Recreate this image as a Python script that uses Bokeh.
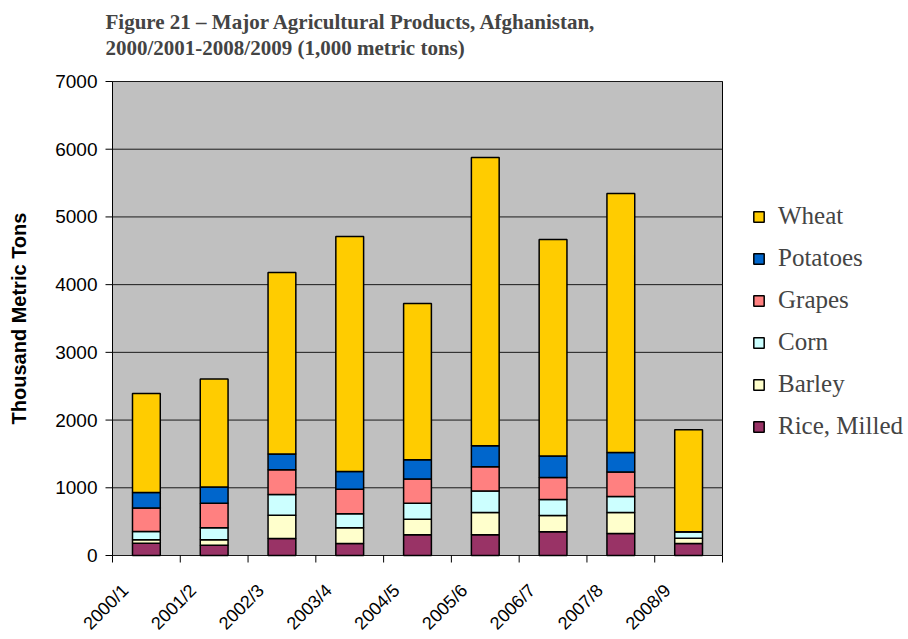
import math
from bokeh.plotting import figure
from bokeh.models import Legend, LegendItem, Title, Range1d
from bokeh.core.properties import value
from bokeh.embed import file_html
from bokeh.resources import INLINE

# ---- data (thousand metric tons) ----
seasons = ["2000/1", "2001/2", "2002/3", "2003/4", "2004/5",
           "2005/6", "2006/7", "2007/8", "2008/9"]
rice = [182, 153, 251, 177, 305, 305, 350, 325, 177]
barley = [50, 79, 345, 232, 232, 330, 241, 310, 79]
corn = [123, 177, 305, 207, 236, 316, 237, 237, 94]
grapes = [345, 364, 365, 364, 355, 359, 325, 360, 0]
potatoes = [231, 237, 232, 261, 286, 311, 315, 290, 0]
wheat = [1462, 1596, 2682, 3471, 2308, 4258, 3200, 3825, 1507]

series_names = ["Rice, Milled", "Barley", "Corn", "Grapes", "Potatoes", "Wheat"]
series_values = [rice, barley, corn, grapes, potatoes, wheat]
series_colors = ["#993366", "#FFFFCC", "#CCFFFF", "#FF8080", "#0066CC", "#FFCC00"]
y_ticks = [0, 1000, 2000, 3000, 4000, 5000, 6000, 7000]
y_tick_labels = ["0", "1000", "2000", "3000", "4000", "5000", "6000", "7000"]
y_axis_title = "Thousand Metric Tons"
title_text = ("Figure 21 \u2013 Major Agricultural Products, Afghanistan,\n"
              "2000/2001-2008/2009 (1,000 metric tons)")

n = len(seasons)
xs = [i + 0.5 for i in range(n)]
y_max = y_ticks[-1]

# ---- layout (pixels on the canvas) ----
W, H = 906, 637
frame_top_px = 67      # set by the title panel height
area_left_px = 112     # plot-area left edge
area_w_px = 610        # plot-area width
area_top_px = 81       # plot-area top edge
area_bottom_px = 555   # plot-area bottom edge
px_per_x = area_w_px / n
upp = y_max / (area_bottom_px - area_top_px)   # data units per pixel (y)

def xd(px):   # canvas x pixel -> data x
    return (px - area_left_px) / px_per_x

def dy(px):   # pixel distance -> data y distance
    return px * upp

p = figure(width=W, height=H, output_backend="svg", toolbar_location=None,
           x_range=Range1d(xd(0), xd(W)),
           y_range=Range1d(-dy(H - area_bottom_px), y_max + dy(area_top_px - frame_top_px)),
           min_border_left=0, min_border_right=0,
           min_border_top=0, min_border_bottom=0)
p.background_fill_color = "white"
p.border_fill_color = "white"
p.outline_line_color = None
p.axis.visible = False
p.grid.grid_line_color = None

# plot area background + gridlines
p.quad(left=[0], right=[n], bottom=[0], top=[y_max], fill_color="#C0C0C0",
       line_color="black", line_width=1)
p.segment(x0=[0] * len(y_ticks), x1=[n] * len(y_ticks), y0=y_ticks, y1=y_ticks,
          line_color="#1a1a1a", line_width=1)

# tick marks: y ticks on the left, category boundaries below
p.segment(x0=[0] * len(y_ticks), x1=[xd(area_left_px - 7)] * len(y_ticks),
          y0=y_ticks, y1=y_ticks, line_color="black", line_width=1)
bounds_x = list(range(n + 1))
p.segment(x0=bounds_x, x1=bounds_x, y0=[0] * (n + 1), y1=[-dy(7)] * (n + 1),
          line_color="black", line_width=1)

renderers = []
bottom = [0] * n
for name, vals, col in zip(series_names, series_values, series_colors):
    top = [b + v for b, v in zip(bottom, vals)]
    r = p.vbar(x=xs, bottom=bottom, top=top, width=0.41,
               fill_color=col, line_color="black", line_width=1.5)
    renderers.append((name, r))
    bottom = top

# y tick labels
p.text(x=[xd(97)] * len(y_ticks), y=y_ticks, text=y_tick_labels,
       text_align="right", text_baseline="middle",
       text_font=value("Liberation Sans"), text_font_size=value("19px"),
       text_color="black")
# y axis title
p.text(x=[xd(18)], y=[y_max / 2], text=[y_axis_title], angle=math.pi / 2,
       text_align="center", text_baseline="middle",
       text_font=value("Liberation Sans"), text_font_size=value("20px"),
       text_font_style="bold", text_color="black")
# x category labels, rotated 45 degrees
p.text(x=[x - 21 / px_per_x for x in xs], y=[-dy(32)] * n, text=seasons,
       angle=math.pi / 4, text_align="right", text_baseline="middle",
       text_font=value("Liberation Sans"), text_font_size=value("18px"),
       text_color="black")

# title (two lines)
p.add_layout(Title(text=title_text, align="left", text_font="Liberation Serif",
                   text_font_style="bold", text_font_size="21px", offset=105,
                   standoff=15, text_line_height=1.1), "above")

items = [LegendItem(label=name, renderers=[r]) for name, r in reversed(renderers)]
legend = Legend(items=items, location=(752, 197), orientation="vertical",
                label_text_font="Liberation Serif", label_text_font_size="25px",
                glyph_width=13, glyph_height=13, label_standoff=13,
                spacing=14, padding=0, margin=0,
                border_line_color=None, background_fill_alpha=0)
p.add_layout(legend, "center")

open("out.html", "w").write(file_html(p, INLINE))
